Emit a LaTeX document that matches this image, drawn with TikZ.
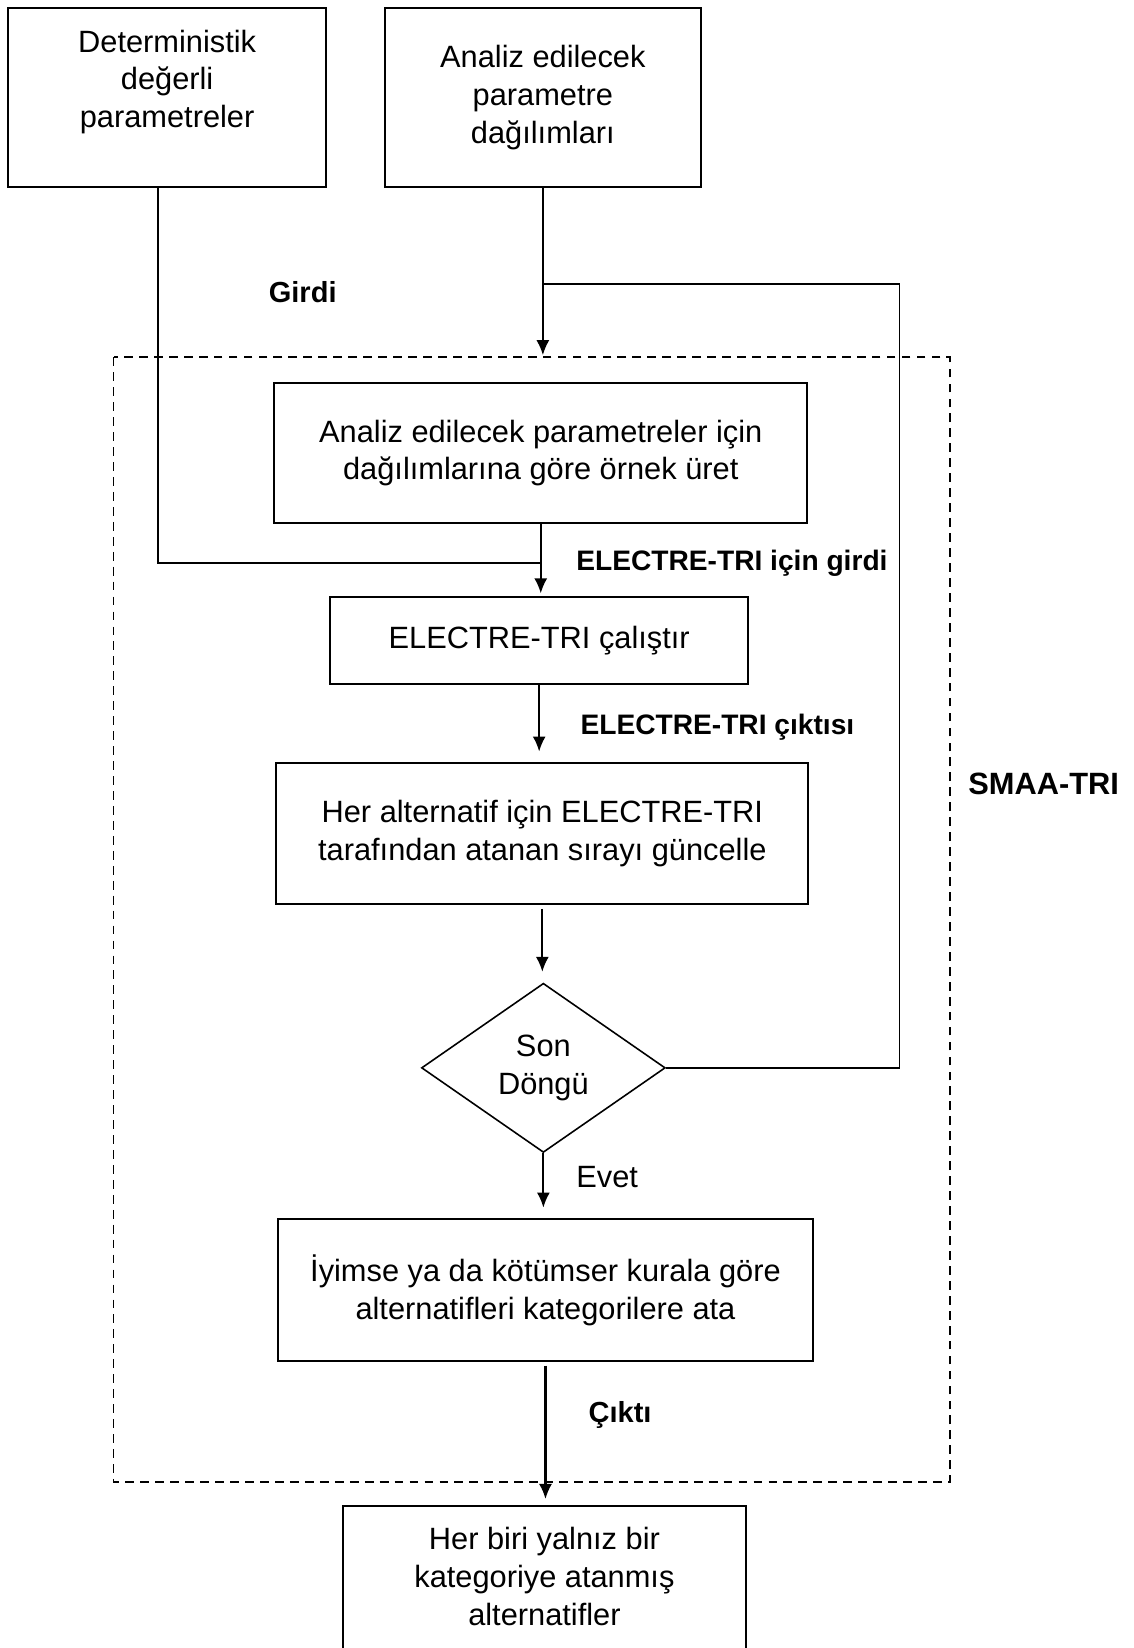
\documentclass[tikz,border=0pt]{standalone}
\usepackage{fontspec}
\setmainfont{Liberation Sans}
\usepackage{tikz}
\usetikzlibrary{arrows,arrows.meta,shapes,backgrounds}
\tikzstyle{box}=[draw=black,line width=1.1pt,rectangle,align=center,inner sep=0pt]
\tikzstyle{decision}=[draw=black,line width=.9pt,diamond,aspect=1.44,align=center,
inner sep=0pt,minimum width=4.87cm,minimum height=3.38cm]
\tikzstyle{arrow}=[-{Latex[length=.3cm,width=.26cm]},line width=1.2pt,draw=black]
\tikzstyle{line}=[black,line width=1.1pt]
\tikzstyle{frame}=[black,line width=1.1pt,dash pattern=on 5pt off 3.5pt]
\tikzstyle{lbl}=[font=\fontsize{16.5}{20}\selectfont\bfseries,inner sep=0pt]
\tikzstyle{txt}=[inner sep=0pt]

\begin{document}
\begin{tikzpicture}[x=.021cm,y=-.021cm,font=\fontsize{17.5}{21.5}\selectfont]

	\useasboundingbox (0,0) rectangle (1078,1568);

	% SMAA-TRI
	\draw[frame] (108,340) rectangle (904,1410);
	\node[lbl,font=\fontsize{17.5}{20}\selectfont\bfseries] (smaa) at (993,746) {SMAA-TRI};

	% kutular
	\node[box,minimum width=6.34cm,minimum height=3.57cm] (det) at (159,93)
	{Deterministik\\değerli\\parametreler\\~};
	\node[box,minimum width=6.32cm,minimum height=3.57cm] (dist) at (516.5,93)
	{Analiz edilecek\\parametre\\dağılımları};
	\node[box,minimum width=10.65cm,minimum height=2.81cm] (gen) at (514.5,431)
	{Analiz edilecek parametreler için\\dağılımlarına göre örnek üret};
	\node[box,minimum width=8.36cm,minimum height=1.74cm] (run) at (513,609.5)
	{ELECTRE-TRI çalıştır};
	\node[box,minimum width=10.63cm,minimum height=2.81cm] (upd) at (516,793)
	{Her alternatif için ELECTRE-TRI\\tarafından atanan sırayı güncelle};
	\node[decision] (son) at (517,1016) {Son\\Döngü};
	\node[box,minimum width=10.67cm,minimum height=2.835cm] (ata) at (519,1227.5)
	{İyimse ya da kötümser kurala göre\\alternatifleri kategorilere ata};
	\node[box,minimum width=8.06cm,minimum height=3.57cm] (out) at (518,1518)
	{Her biri yalnız bir\\kategoriye atanmış\\alternatifler\\~};

	% etiketler
	\node[lbl] (girdi) at (288,278) {Girdi};
	\node[lbl,font=\fontsize{16}{20}\selectfont\bfseries,anchor=west] (ingirdi) at (548,536) {ELECTRE-TRI için girdi};
	\node[lbl,font=\fontsize{16}{20}\selectfont\bfseries,anchor=west] (outtri) at (552,692) {ELECTRE-TRI çıktısı};
	\node[txt,anchor=west] (evet) at (548,1120) {Evet};
	\node[lbl] (cikti) at (590,1346) {Çıktı};

	\coordinate (smaatop) at (516.5,338);
	\coordinate (branch) at (516.5,270);
	\coordinate (loopc) at (856,270);
	\coordinate (bend) at (150,536);
	\coordinate (join) at (514.5,536);

	%baglantilar
	\draw[arrow] (dist.south) -- (smaatop);
	\draw[line,line width=.9pt] (son.east) -| (loopc) -- (branch);
	\draw[line] (det.south -| bend) -- (bend) -- (join);
	\draw[arrow,shorten >=1.5pt] (gen.south) -- (gen.south |- run.north);
	\draw[arrow,shorten >=6pt] (run.south) -- (run.south |- upd.north);
	\draw[arrow,shorten <=2.4pt,shorten >=6pt] (upd.south) -- (upd.south |- son.north);
	\draw[arrow,shorten >=6pt] (son.south) -- (son.south |- ata.north);
	\draw[arrow,shorten <=2pt,shorten >=3.5pt] (ata.south) -- (ata.south |- out.north);
\end{tikzpicture}
\end{document}
